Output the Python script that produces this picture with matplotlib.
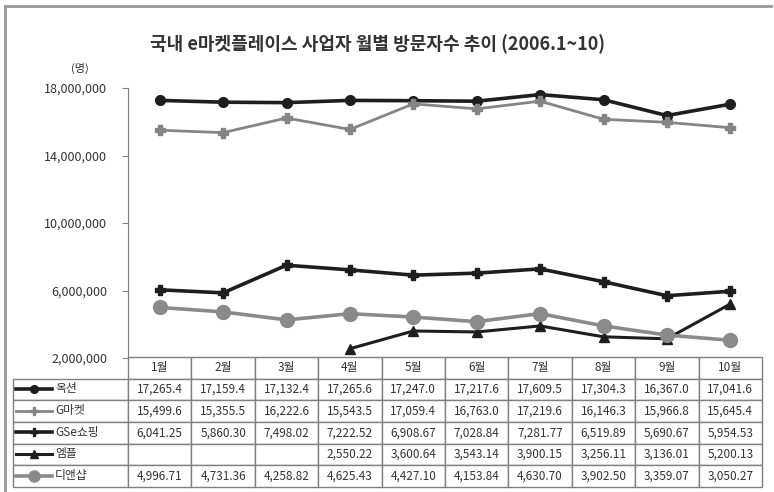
import matplotlib.pyplot as plt
import numpy as np
from matplotlib.lines import Line2D
from matplotlib.ticker import FuncFormatter

plt.rcParams['font.family'] = ['Noto Sans CJK KR', 'DejaVu Sans']

title = '국내 e마켓플레이스 사업자 월별 방문자수 추이 (2006.1~10)'
months = ['1월', '2월', '3월', '4월', '5월', '6월', '7월', '8월', '9월', '10월']
names = ['옥션', 'G마켓', 'GSe쇼핑', '엠플', '디앤샵']

# visitors, thousands
auction = [17265.4, 17159.4, 17132.4, 17265.6, 17247.0, 17217.6, 17609.5, 17304.3, 16367.0, 17041.6]
gmarket = [15499.6, 15355.5, 16222.6, 15543.5, 17059.4, 16763.0, 17219.6, 16146.3, 15966.8, 15645.4]
gseshop = [6041.25, 5860.30, 7498.02, 7222.52, 6908.67, 7028.84, 7281.77, 6519.89, 5690.67, 5954.53]
mple = [np.nan, np.nan, np.nan, 2550.22, 3600.64, 3543.14, 3900.15, 3256.11, 3136.01, 5200.13]
dnshop = [4996.71, 4731.36, 4258.82, 4625.43, 4427.10, 4153.84, 4630.70, 3902.50, 3359.07, 3050.27]
series = [auction, gmarket, gseshop, mple, dnshop]
decimals = [1, 1, 2, 2, 2]

styles = [
    dict(color='#1e1e1e', lw=2.6, marker='o', ms=7),
    dict(color='#858585', lw=2.0, marker='P', ms=7),
    dict(color='#1e1e1e', lw=2.6, marker='P', ms=7),
    dict(color='#1e1e1e', lw=2.2, marker='^', ms=7),
    dict(color='#8a8a8a', lw=2.6, marker='o', ms=10),
]

fig = plt.figure(figsize=(7.74, 4.92), dpi=100)
ax = fig.add_axes([128 / 774, 1 - 358 / 492, 634 / 774, 270 / 492])

x = np.arange(len(months))
for vals, st in zip(series, styles):
    ax.plot(x, np.array(vals) * 1000, **st)

ax.set_xlim(-0.5, len(months) - 0.5)
ax.set_ylim(2e6, 18e6)
ax.set_yticks([2e6, 6e6, 10e6, 14e6, 18e6])
ax.yaxis.set_major_formatter(FuncFormatter(lambda v, p: f'{int(v):,}'))
ax.set_xticks([])
for s in ['top', 'right', 'bottom']:
    ax.spines[s].set_visible(False)
ax.spines['left'].set_color('#808080')
ax.tick_params(axis='y', length=4, color='#808080', labelsize=9, pad=11, labelcolor='#333333')

# data table
cell_text = [[''] + [f'{v:,.{d}f}' if not np.isnan(v) else '' for v in vals]
             for vals, d in zip(series, decimals)]
col_w = [115] + [63.4] * len(months)
tb = ax.table(cellText=cell_text, colLabels=[''] + months, colWidths=col_w,
              cellLoc='center',
              bbox=[(13 - 128) / 634, -(487 - 358) / 270, (762 - 13) / 634, (487 - 357) / 270])
tb.auto_set_font_size(False)
tb.set_fontsize(8.5)
for (r, c), cell in tb.get_celld().items():
    cell.set_edgecolor('#808080')
    cell.set_linewidth(1.0)
    cell.get_text().set_color('#333333')
tb[0, 0].visible_edges = ''

# legend keys in the first column
row_h = (487 - 357) / 270 / 6
for i, (name, st) in enumerate(zip(names, styles)):
    yc = -(20 / 270) - row_h * (i + 0.5)
    ax.add_line(Line2D([(16 - 128) / 634, (52 - 128) / 634], [yc, yc], transform=ax.transAxes,
                       color=st['color'], lw=st['lw'], clip_on=False))
    ax.add_line(Line2D([(34 - 128) / 634], [yc], transform=ax.transAxes, color=st['color'],
                       marker=st['marker'], ms=st['ms'] * 0.8, clip_on=False))
    ax.text((55 - 128) / 634, yc, name, transform=ax.transAxes, ha='left', va='center',
            fontsize=8.5, color='#333333')

fig.text(378 / 774, 1 - 44 / 492, title, ha='center', va='center', fontsize=13,
         fontweight='bold', color='#333333')
fig.text(80 / 774, 1 - 68 / 492, '(명)', ha='center', va='center', fontsize=8, color='#333333')

fig.add_artist(Line2D([5 / 774, 5 / 774], [0, 1 - 6 / 492], transform=fig.transFigure,
                      color='#999999', lw=2))
fig.add_artist(Line2D([5 / 774, 771 / 774], [1 - 6 / 492, 1 - 6 / 492], transform=fig.transFigure,
                      color='#999999', lw=2))

fig.savefig('out.png', dpi=100)
